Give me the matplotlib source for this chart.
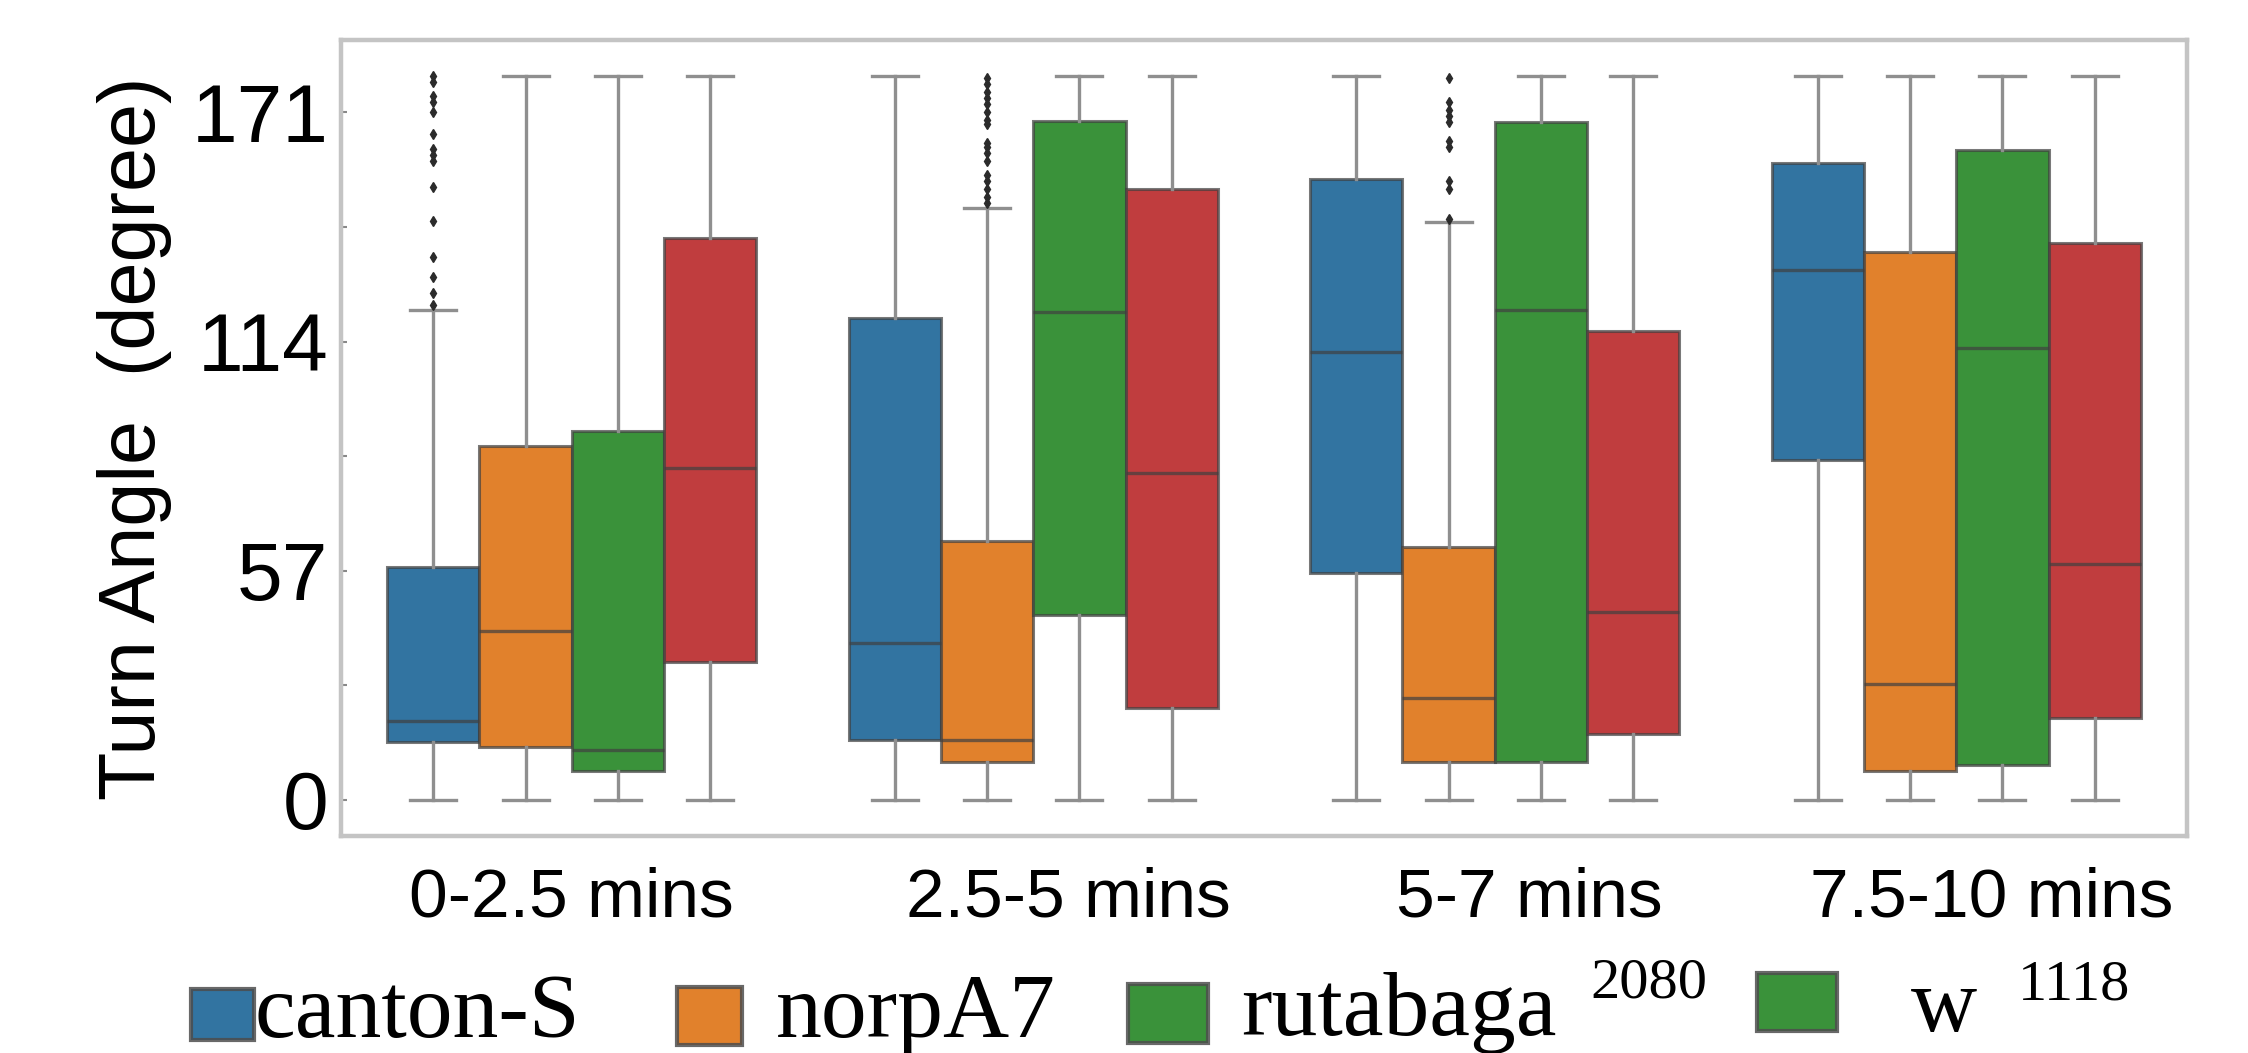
import numpy as np
import matplotlib.pyplot as plt
from matplotlib.patches import Rectangle
from matplotlib.transforms import ScaledTranslation

plt.rcParams['font.family'] = ['Liberation Sans', 'DejaVu Sans']

# time windows and genotypes
periods = ["0-2.5 mins", "2.5-5 mins", "5-7 mins", "7.5-10 mins"]
genotypes = ["canton-S", "norpA7", "rutabaga", "w1118"]

# box statistics per genotype, one value per time window (degrees)
canton_q1 = [14.4, 15.0, 56.3, 84.5]
canton_med = [19.6, 39.0, 111.3, 131.9]
canton_q3 = [58.0, 119.9, 154.4, 158.5]
canton_lo = [0, 0, 0, 0]
canton_hi = [121.8, 180, 180, 180]
canton_fliers = [
    [123, 126, 130, 135, 144, 152.5, 159, 160.5, 162, 165.5, 171, 173.5, 175, 178.5, 180],
    [], [], [],
]

norpa_q1 = [13.1, 9.3, 9.5, 7.1]
norpa_med = [41.9, 15.0, 25.3, 28.9]
norpa_q3 = [88.1, 64.3, 62.8, 136.3]
norpa_lo = [0, 0, 0, 0]
norpa_hi = [180, 147.1, 143.7, 180]
norpa_fliers = [
    [],
    [148.5, 150, 152, 154, 155.5, 159, 161, 162.5, 163.5, 168, 169, 171, 173, 174.5, 176, 178, 179.5],
    [144.5, 152, 154, 162.5, 164, 168.5, 170, 171.5, 173.5, 179.5],
    [],
]

ruta_q1 = [7.1, 46.0, 9.5, 8.7]
ruta_med = [12.5, 121.4, 121.8, 112.3]
ruta_q3 = [91.7, 168.8, 168.6, 161.6]
ruta_lo = [0, 0, 0, 0]
ruta_hi = [180, 180, 180, 180]
ruta_fliers = [[], [], [], []]

w_q1 = [34.3, 22.9, 16.3, 20.3]
w_med = [82.6, 81.3, 46.6, 58.6]
w_q3 = [139.7, 151.9, 116.5, 138.6]
w_lo = [0, 0, 0, 0]
w_hi = [180, 180, 180, 180]
w_fliers = [[], [], [], []]

yticks = [0, 57, 114, 171]
yticks_minor = [28.5, 85.5, 142.5]

colors = ["#3274a1", "#e1812c", "#3a923a", "#c03d3e"]

# legend as it appears in the figure (last swatch is green in the original)
legend_names = ["canton-S", "norpA7", "rutabaga", "w"]
legend_sups = ["", "", "2080", "1118"]
legend_colors = [colors[0], colors[1], colors[2], colors[2]]


def make_stats(q1, med, q3, lo, hi, fliers):
    stats = []
    for i in range(len(q1)):
        stats.append(dict(q1=q1[i], med=med[i], q3=q3[i], whislo=lo[i],
                          whishi=hi[i], fliers=fliers[i]))
    return stats


W, H = 2248, 1053
fig = plt.figure(figsize=(W / 100, H / 100), dpi=100)
ax = fig.add_axes([341 / W, 1 - 836 / H, (2187 - 341) / W, (836 - 40) / H])

all_stats = [
    make_stats(canton_q1, canton_med, canton_q3, canton_lo, canton_hi, canton_fliers),
    make_stats(norpa_q1, norpa_med, norpa_q3, norpa_lo, norpa_hi, norpa_fliers),
    make_stats(ruta_q1, ruta_med, ruta_q3, ruta_lo, ruta_hi, ruta_fliers),
    make_stats(w_q1, w_med, w_q3, w_lo, w_hi, w_fliers),
]

edge = (0.25, 0.25, 0.25, 0.7)
offsets = [-0.3, -0.1, 0.1, 0.3]
for j, stats in enumerate(all_stats):
    pos = np.arange(len(periods)) + offsets[j]
    ax.bxp(stats, positions=pos, widths=0.2, patch_artist=True,
           manage_ticks=False,
           boxprops=dict(facecolor=colors[j], edgecolor=edge, linewidth=2.2),
           whiskerprops=dict(color="#8f8f8f", linewidth=2.4),
           capprops=dict(color="#8f8f8f", linewidth=2.4),
           medianprops=dict(color=edge, linewidth=2.4),
           flierprops=dict(marker="d", markersize=5.5, markerfacecolor="#2b2b2b",
                           markeredgecolor="#2b2b2b", linestyle="none"))

ax.set_xlim(-0.5, 3.5)
ax.set_ylim(-9, 189)
ax.set_xticks(np.arange(len(periods)))
ax.set_xticklabels(periods, fontsize=50)
ax.tick_params(axis="x", length=0, pad=22)
ax.set_yticks(yticks)
ax.set_yticks(yticks_minor, minor=True)
ax.tick_params(axis="y", which="both", direction="in", length=4, width=1.5,
               color="#888888", labelsize=59, pad=9)
ax.set_ylabel("Turn Angle  (degree)", fontsize=57, labelpad=14)

# the three later labels sit slightly right of their group
for lab in ax.get_xticklabels()[1:]:
    lab.set_transform(lab.get_transform() + ScaledTranslation(0.35, 0, fig.dpi_scale_trans))

for sp in ax.spines.values():
    sp.set_color("#c4c4c4")
    sp.set_linewidth(3.2)

# title, cropped at the top edge in the original (only descender tips show)
fig.text(-93 / W, 1 + 25 / H, "Turn Angles Comparison among four different genotypes",
         family="Liberation Serif", fontsize=75, va="baseline", ha="left")

# hand placed legend (pixel positions from the original layout)
patch_boxes = [(191, 989, 254, 1040), (677, 987, 742, 1045),
               (1128, 984, 1208, 1043), (1757, 973, 1837, 1031)]
text_pos = [(255, 1037), (776, 1037), (1241, 1035), (1911, 1031)]
sup_pos = [None, None, (1590, 997), (2018, 1000)]
for k in range(len(legend_names)):
    x0, y0, x1, y1 = patch_boxes[k]
    fig.add_artist(Rectangle((x0 / W, 1 - y1 / H), (x1 - x0) / W, (y1 - y0) / H,
                             transform=fig.transFigure, facecolor=legend_colors[k],
                             edgecolor=(0.3, 0.3, 0.3, 0.85), linewidth=3))
    tx, ty = text_pos[k]
    fig.text(tx / W, 1 - ty / H, legend_names[k], family="Liberation Serif",
             fontsize=66, va="baseline", ha="left")
    if legend_sups[k]:
        sx, sy = sup_pos[k]
        fig.text(sx / W, 1 - sy / H, legend_sups[k], family="Liberation Serif",
                 fontsize=42, va="baseline", ha="left")

fig.savefig("out.png", dpi=100)
